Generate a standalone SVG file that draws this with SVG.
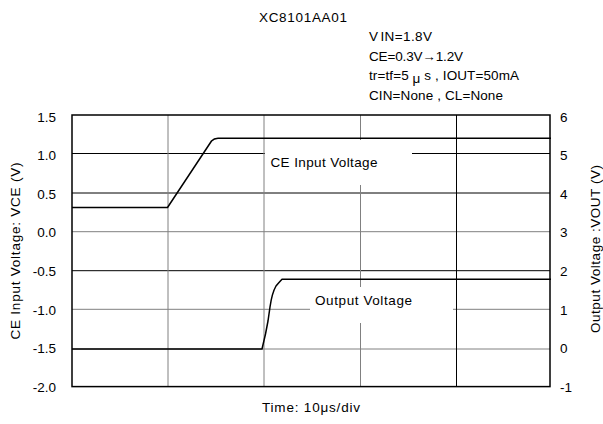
<svg xmlns="http://www.w3.org/2000/svg" width="603" height="424" viewBox="0 0 603 424">
<style>
text{font-family:"Liberation Sans",Arial,sans-serif;font-size:13.5px;fill:#000}
.gk{stroke:#000;stroke-width:1}
.gg{stroke:#808080;stroke-width:1}
.tr{fill:none;stroke:#000;stroke-width:1.5;stroke-linejoin:round}
.lt{text-anchor:end}
</style>
<rect width="603" height="424" fill="#fff"/>
<g id="grid">
<line class="gk" x1="72" y1="153.5" x2="550" y2="153.5"/>
<line class="gk" x1="72" y1="193" x2="550" y2="193"/>
<line class="gg" x1="72" y1="231.7" x2="550" y2="231.7"/>
<line class="gk" x1="72" y1="270.7" x2="550" y2="270.7"/>
<line class="gg" x1="72" y1="309.3" x2="550" y2="309.3"/>
<line class="gg" x1="72" y1="349" x2="550" y2="349"/>
<line class="gg" x1="168" y1="115" x2="168" y2="386.6"/>
<line class="gg" x1="264" y1="115" x2="264" y2="386.6"/>
<line class="gg" x1="360.5" y1="115" x2="360.5" y2="386.6"/>
<line class="gk" x1="456.5" y1="115" x2="456.5" y2="386.6"/>
<rect x="72" y="115" width="478" height="271.6" fill="none" stroke="#000" stroke-width="1.5"/>
</g>
<g id="label-ce">
<rect x="265" y="140" width="147" height="45" fill="#fff"/>
<text x="270.5" y="167" textLength="107" lengthAdjust="spacing">CE Input Voltage</text>
</g>
<g id="label-out">
<rect x="310" y="287" width="143" height="36" fill="#fff"/>
<text x="315" y="304.5" textLength="97" lengthAdjust="spacing">Output Voltage</text>
</g>
<g id="connectors">
<path id="ce-trace" class="tr" d="M72,207.5 L167.5,207.5 L211.5,141 Q214,138.4 218,138.3 L551,138.3"/>
<path id="out-trace" class="tr" d="M72,349 L262,349 L265.5,334 L268,321 L270,307 Q272,293 276,286 L279,282.5 L282,279.2 L551,279.2"/>
</g>
<g id="left-axis">
<text class="lt" x="56" y="121.5">1.5</text>
<text class="lt" x="56" y="160">1.0</text>
<text class="lt" x="56" y="198.5">0.5</text>
<text class="lt" x="56" y="237">0.0</text>
<text class="lt" x="56" y="276">-0.5</text>
<text class="lt" x="56" y="314.5">-1.0</text>
<text class="lt" x="56" y="353">-1.5</text>
<text class="lt" x="56" y="391.5">-2.0</text>
<text transform="translate(19.5,339.5) rotate(-90)" textLength="177" lengthAdjust="spacing">CE Input Voltage: VCE (V)</text>
</g>
<g id="right-axis">
<text x="560" y="121.5">6</text>
<text x="560" y="160">5</text>
<text x="560" y="198.5">4</text>
<text x="560" y="237">3</text>
<text x="560" y="276">2</text>
<text x="560" y="314.5">1</text>
<text x="560" y="353">0</text>
<text x="560" y="391.5">-1</text>
<text transform="translate(600,333) rotate(-90)" textLength="168" lengthAdjust="spacing">Output Voltage :VOUT (V)</text>
</g>
<g id="x-axis">
<text x="262" y="412" textLength="98" lengthAdjust="spacing">Time: 10μs/div</text>
</g>
<g id="title">
<text x="259" y="21.5" textLength="88" lengthAdjust="spacing">XC8101AA01</text>
<text x="369" y="41" textLength="63" lengthAdjust="spacing">V<tspan dx="2">IN=1.8V</tspan></text>
<text x="369" y="60.5" textLength="94" lengthAdjust="spacing">CE=0.3V→1.2V</text>
<text x="369" y="80" textLength="150" lengthAdjust="spacing">tr=tf=5 <tspan dy="2.5">μ</tspan><tspan dy="-2.5"> s , IOUT=50mA</tspan></text>
<text x="369" y="99.5" textLength="134" lengthAdjust="spacing">CIN=None , CL=None</text>
</g>
</svg>
